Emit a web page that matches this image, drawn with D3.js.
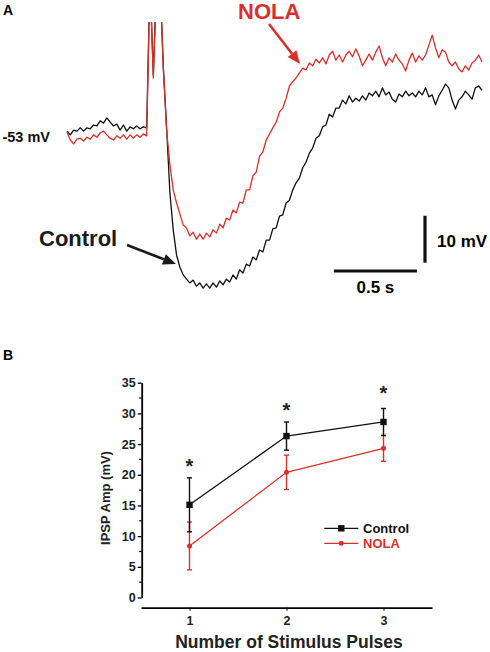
<!DOCTYPE html>
<html>
<head>
<meta charset="utf-8">
<script src="https://cdn.jsdelivr.net/npm/d3@7"></script>
<style>
  html, body { margin: 0; padding: 0; background: #fff; }
  svg { display: block; }
  text { font-family: Arial, "Liberation Sans", sans-serif; }
</style>
</head>
<body>
<svg id="chart" width="490" height="652"></svg>
<script>
// ---------------- Panel A data (membrane potential traces, mV; sampled every 20 ms) ----------------
const traceTimeMs = d3.range(0, 2520, 20);
const controlMv = [
  -52.6, -53.4, -52.4, -52.6, -51.9, -52.6, -51.9, -52.1, -51.3, -51.5,
  -50.4, -50.9, -49.8, -50.7, -51.5, -51.1, -52.4, -51.3, -52.6, -51.7,
  -52.1, -51.5, -52.1, -51.7, -51.9,
  -20, -40.7, -20, -20, -38.7, -51.9,
  -65.8, -73.6, -79.0, -81.5, -83.2, -84.1, -84.9, -84.3, -85.6, -84.9,
  -86.0, -85.1, -86.0, -84.9, -85.8, -84.5, -85.3, -84.1, -84.7, -83.2,
  -84.1, -82.1, -82.8, -80.9, -81.3, -79.4, -80.0, -77.9, -78.3, -75.8,
  -75.8, -73.4, -73.2, -70.7, -70.4, -67.9, -67.3, -65.1, -63.6, -62.6,
  -60.4, -59.2, -57.3, -56.2, -54.1, -53.6, -51.7, -51.3, -49.0, -49.6,
  -47.7, -47.7, -46.0, -46.8, -45.1, -46.4, -45.6, -46.2, -45.1, -46.0,
  -44.5, -45.1, -44.1, -45.3, -43.4, -44.9, -44.3, -45.8, -46.4, -44.7,
  -45.3, -44.1, -45.1, -44.5, -45.3, -44.1, -44.9, -43.4, -45.3, -44.9,
  -47.0, -45.1, -43.9, -42.6, -43.4, -46.0, -47.9, -46.0, -45.3, -44.1,
  -44.9, -45.8, -43.4, -43.0, -43.9
];
const nolaMv = [
  -52.8, -54.5, -55.3, -54.3, -54.1, -54.7, -53.9, -54.3, -53.4, -53.9,
  -53.0, -52.6, -53.4, -54.1, -54.5, -53.6, -54.1, -53.4, -54.3, -53.4,
  -54.1, -53.4, -53.9, -53.2, -53.6,
  -20, -41.3, -20, -20, -39.2, -52.4,
  -59.8, -65.1, -67.9, -70.2, -72.6, -73.2, -74.9, -74.1, -75.6, -74.5,
  -75.6, -74.3, -75.1, -73.6, -74.3, -72.4, -73.2, -71.1, -71.5, -69.4,
  -70.0, -67.7, -67.9, -65.1, -65.1, -62.1, -61.3, -57.9, -57.0, -54.5,
  -53.2, -51.9, -50.7, -48.5, -47.7, -45.6, -43.0, -42.1, -41.3, -40.2,
  -39.2, -39.6, -38.1, -38.7, -37.3, -38.1, -37.0, -38.3, -36.4, -35.6,
  -37.5, -36.4, -37.9, -36.4, -35.6, -36.8, -35.1, -36.6, -38.7, -37.5,
  -36.2, -37.5, -35.8, -34.5, -37.0, -38.7, -37.0, -37.9, -36.2, -37.5,
  -38.3, -39.8, -37.5, -36.0, -37.9, -36.6, -37.5, -36.4, -34.3, -32.2,
  -34.9, -37.0, -35.3, -35.8, -37.9, -38.7, -37.9, -39.4, -40.0, -38.7,
  -39.6, -38.1, -37.5, -36.4, -37.9
];
const restingLabel = "-53 mV";
const scaleBarMs = 500;     // 0.5 s
const scaleBarMv = 10;      // 10 mV

// ---------------- Panel B data ----------------
const pulses = [1, 2, 3];
const pulseTicks = ["1", "2", "3"];
const controlMean = [15.1, 26.3, 28.6];
const controlSem = [4.4, 2.3, 2.2];
const nolaMean = [8.4, 20.4, 24.3];
const nolaSem = [3.9, 2.8, 2.1];
const sigMarkY = [22.1, 31.3, 34.0];
const yTicksB = [0, 5, 10, 15, 20, 25, 30, 35];
const seriesNames = ["Control", "NOLA"];

const RED = "#d8312d";
const BLACK = "#111";
const svg = d3.select("#chart");

// ================= Panel A =================
const xA = d3.scaleLinear().domain([0, 2500]).range([67, 482]);
const yA = d3.scaleLinear().domain([-53, -43]).range([133, 86]);

svg.append("defs").append("clipPath").attr("id", "clipA")
  .append("rect").attr("x", 0).attr("y", 22).attr("width", 490).attr("height", 300);

const lineA = d3.line().x((d, i) => xA(traceTimeMs[i])).y(d => yA(d));
const gA = svg.append("g").attr("clip-path", "url(#clipA)");
gA.append("path").datum(controlMv).attr("d", lineA)
  .attr("fill", "none").attr("stroke", BLACK).attr("stroke-width", 1.3).attr("stroke-linejoin", "round");
gA.append("path").datum(nolaMv).attr("d", lineA)
  .attr("fill", "none").attr("stroke", RED).attr("stroke-width", 1.3).attr("stroke-linejoin", "round");

svg.append("text").attr("x", 3).attr("y", 15).attr("font-size", 14).attr("font-weight", "bold").text("A");
svg.append("text").attr("x", 50).attr("y", 142).attr("text-anchor", "end")
  .attr("font-size", 14.5).attr("font-weight", "bold").attr("fill", BLACK).text(restingLabel);

// scale bars
const sbT0 = 1608, sbV0 = -80.6;
svg.append("line").attr("x1", xA(sbT0)).attr("x2", xA(sbT0 + scaleBarMs))
  .attr("y1", 271).attr("y2", 271).attr("stroke", BLACK).attr("stroke-width", 3.2);
svg.append("line").attr("x1", 425).attr("x2", 425)
  .attr("y1", yA(sbV0)).attr("y2", yA(sbV0 + scaleBarMv)).attr("stroke", BLACK).attr("stroke-width", 3.2);
svg.append("text").attr("x", (xA(sbT0) + xA(sbT0 + scaleBarMs)) / 2).attr("y", 293)
  .attr("text-anchor", "middle").attr("font-size", 17).attr("font-weight", "bold").text("0.5 s");
svg.append("text").attr("x", 437).attr("y", 247)
  .attr("font-size", 17).attr("font-weight", "bold").text("10 mV");

// annotation arrows
function arrow(x1, y1, x2, y2, color, w, headL, headW) {
  const ang = Math.atan2(y2 - y1, x2 - x1);
  const bx = x2 - headL * Math.cos(ang), by = y2 - headL * Math.sin(ang);
  svg.append("line").attr("x1", x1).attr("y1", y1).attr("x2", bx).attr("y2", by)
    .attr("stroke", color).attr("stroke-width", w);
  const px = -Math.sin(ang) * headW / 2, py = Math.cos(ang) * headW / 2;
  svg.append("path").attr("d", `M${x2},${y2}L${bx + px},${by + py}L${bx - px},${by - py}Z`).attr("fill", color);
}
svg.append("text").attr("x", 238).attr("y", 19).attr("font-size", 22).attr("font-weight", "bold")
  .attr("fill", RED).text(seriesNames[1]);
arrow(269, 24, 300, 64, RED, 2.6, 13, 11);
svg.append("text").attr("x", 39).attr("y", 246).attr("font-size", 22).attr("font-weight", "bold")
  .attr("fill", "#1a1a1a").text(seriesNames[0]);
arrow(127, 245, 176, 264, "#1a1a1a", 2.6, 13, 11);

// ================= Panel B =================
const xB = d3.scaleLinear().domain([0.5, 3.5]).range([141, 432]);
const yB = d3.scaleLinear().domain([0, 35]).range([597.5, 382.7]);

svg.append("text").attr("x", 3).attr("y", 360).attr("font-size", 14).attr("font-weight", "bold").text("B");

const yAxis = svg.append("g").attr("transform", "translate(141.7,0)")
  .call(d3.axisLeft(yB).tickValues(yTicksB).tickSize(4).tickSizeOuter(0).tickPadding(2));
yAxis.select(".domain").attr("stroke-width", 1.8);
yAxis.selectAll(".tick line").attr("stroke-width", 1.3);
yAxis.selectAll("text").attr("font-size", 12.5).attr("font-weight", "bold")
  .attr("font-family", "Arial, 'Liberation Sans', sans-serif").attr("fill", "#222");
// minor ticks
yAxis.selectAll(".minor").data(d3.range(2.5, 35, 5)).enter().append("line")
  .attr("x1", 0).attr("x2", -2.5).attr("y1", d => yB(d)).attr("y2", d => yB(d))
  .attr("stroke", "#000").attr("stroke-width", 1.2);

const xAxis = svg.append("g").attr("transform", "translate(0,607.7)")
  .call(d3.axisBottom(xB).tickValues(pulses).tickFormat((d, i) => pulseTicks[i]).tickSize(3).tickSizeOuter(0).tickPadding(5));
xAxis.select(".domain").attr("stroke-width", 1.8);
xAxis.selectAll("text").attr("font-size", 12.5).attr("font-weight", "bold")
  .attr("font-family", "Arial, 'Liberation Sans', sans-serif").attr("fill", "#222");

svg.append("text").attr("transform", "translate(110,498) rotate(-90)").attr("text-anchor", "middle")
  .attr("font-size", 13).attr("font-weight", "bold").attr("fill", "#222").text("IPSP Amp (mV)");
svg.append("text").attr("x", 289).attr("y", 648).attr("text-anchor", "middle")
  .attr("font-size", 17.5).attr("font-weight", "bold").attr("fill", "#222").text("Number of Stimulus Pulses");

function drawSeries(means, sems, color, marker) {
  const g = svg.append("g");
  const pts = pulses.map((p, i) => ({ x: p, m: means[i], s: sems[i] }));
  g.append("path").datum(pts)
    .attr("d", d3.line().x(d => xB(d.x)).y(d => yB(d.m)))
    .attr("fill", "none").attr("stroke", color).attr("stroke-width", 1.3);
  pts.forEach(d => {
    const cx = xB(d.x);
    g.append("line").attr("x1", cx).attr("x2", cx).attr("y1", yB(d.m - d.s)).attr("y2", yB(d.m + d.s))
      .attr("stroke", color).attr("stroke-width", 1.4);
    [d.m - d.s, d.m + d.s].forEach(v => {
      g.append("line").attr("x1", cx - 2.5).attr("x2", cx + 2.5).attr("y1", yB(v)).attr("y2", yB(v))
        .attr("stroke", color).attr("stroke-width", 1.4);
    });
    if (marker === "square") {
      g.append("rect").attr("x", cx - 3.2).attr("y", yB(d.m) - 3.2).attr("width", 6.4).attr("height", 6.4).attr("fill", color);
    } else {
      g.append("circle").attr("cx", cx).attr("cy", yB(d.m)).attr("r", 2.5).attr("fill", color);
    }
  });
}
drawSeries(nolaMean, nolaSem, RED, "circle");
drawSeries(controlMean, controlSem, BLACK, "square");

// significance asterisks
pulses.forEach((p, i) => {
  svg.append("text").attr("x", xB(p)).attr("y", yB(sigMarkY[i]) + 11.5).attr("text-anchor", "middle")
    .attr("font-size", 20).attr("font-weight", "bold").attr("fill", "#222").text("*");
});

// legend
const legend = svg.append("g");
[[BLACK, "square", 528.3], [RED, "circle", 543.3]].forEach((L, i) => {
  legend.append("line").attr("x1", 324.3).attr("x2", 358.3).attr("y1", L[2]).attr("y2", L[2])
    .attr("stroke", L[0]).attr("stroke-width", 1.3);
  if (L[1] === "square") {
    legend.append("rect").attr("x", 341.3 - 3.2).attr("y", L[2] - 3.2).attr("width", 6.4).attr("height", 6.4).attr("fill", L[0]);
  } else {
    legend.append("circle").attr("cx", 341.3).attr("cy", L[2]).attr("r", 2.5).attr("fill", L[0]);
  }
  legend.append("text").attr("x", 363).attr("y", L[2] + 4.7).attr("font-size", 13).attr("font-weight", "bold")
    .attr("fill", i === 0 ? "#111" : RED).text(seriesNames[i]);
});
</script>
</body>
</html>
